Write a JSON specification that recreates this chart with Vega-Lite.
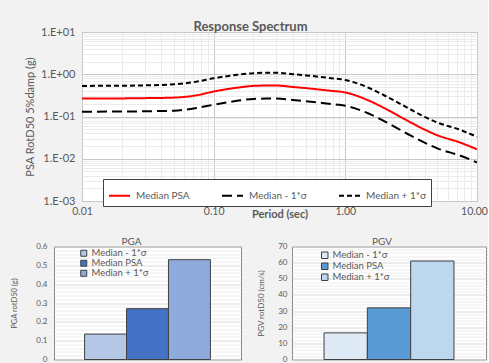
{
  "$schema": "https://vega.github.io/schema/vega-lite/v6.json",
  "background": "#f2f2f2",
  "padding": {"left": 8, "top": 20, "right": 0, "bottom": 0},
  "config": {
    "font": "Lato",
    "axis": {"labelColor": "#595959", "titleColor": "#595959", "labelFont": "Lato", "titleFont": "Lato", "ticks": false, "tickSize": 0, "domain": false, "labelOverlap": false, "labelBound": false, "labelFlush": false},
    "view": {"stroke": "#7f7f7f", "fill": "white"},
    "legend": {"labelFont": "Lato", "labelColor": "#595959"}
  },
  "spacing": 16.5,
  "resolve": {"scale": {"color": "independent", "strokeDash": "independent", "x": "independent", "y": "independent"}, "legend": {"color": "independent", "strokeDash": "independent"}},
  "vconcat": [
    {
      "bounds": "flush",
      "spacing": 0,
      "resolve": {"scale": {"x": "independent", "y": "independent", "color": "independent", "strokeDash": "independent"}, "legend": {"color": "independent", "strokeDash": "independent"}},
      "hconcat": [
        {
          "width": 28,
          "height": 169,
          "view": {"stroke": null, "fill": null},
          "data": {"values": []},
          "mark": "point",
          "encoding": {}
        },
        {
          "width": 395,
          "height": 169,
          "title": {"text": "Response Spectrum", "fontSize": 13, "fontWeight": "bold", "color": "#595959", "font": "Lato", "offset": -8, "dx": -29},
          "data": {"values": [
            {"period": 0.01, "series": "Median PSA", "value": 0.265}, {"period": 0.01, "series": "Median - 1*σ", "value": 0.13}, {"period": 0.01, "series": "Median + 1*σ", "value": 0.53},
            {"period": 0.02, "series": "Median PSA", "value": 0.268}, {"period": 0.02, "series": "Median - 1*σ", "value": 0.131}, {"period": 0.02, "series": "Median + 1*σ", "value": 0.535},
            {"period": 0.03, "series": "Median PSA", "value": 0.272}, {"period": 0.03, "series": "Median - 1*σ", "value": 0.133}, {"period": 0.03, "series": "Median + 1*σ", "value": 0.545},
            {"period": 0.05, "series": "Median PSA", "value": 0.28}, {"period": 0.05, "series": "Median - 1*σ", "value": 0.137}, {"period": 0.05, "series": "Median + 1*σ", "value": 0.58},
            {"period": 0.075, "series": "Median PSA", "value": 0.32}, {"period": 0.075, "series": "Median - 1*σ", "value": 0.16}, {"period": 0.075, "series": "Median + 1*σ", "value": 0.67},
            {"period": 0.1, "series": "Median PSA", "value": 0.39}, {"period": 0.1, "series": "Median - 1*σ", "value": 0.19}, {"period": 0.1, "series": "Median + 1*σ", "value": 0.8},
            {"period": 0.15, "series": "Median PSA", "value": 0.48}, {"period": 0.15, "series": "Median - 1*σ", "value": 0.235}, {"period": 0.15, "series": "Median + 1*σ", "value": 0.97},
            {"period": 0.2, "series": "Median PSA", "value": 0.53}, {"period": 0.2, "series": "Median - 1*σ", "value": 0.26}, {"period": 0.2, "series": "Median + 1*σ", "value": 1.06},
            {"period": 0.25, "series": "Median PSA", "value": 0.54}, {"period": 0.25, "series": "Median - 1*σ", "value": 0.265}, {"period": 0.25, "series": "Median + 1*σ", "value": 1.08},
            {"period": 0.3, "series": "Median PSA", "value": 0.54}, {"period": 0.3, "series": "Median - 1*σ", "value": 0.265}, {"period": 0.3, "series": "Median + 1*σ", "value": 1.08},
            {"period": 0.4, "series": "Median PSA", "value": 0.5}, {"period": 0.4, "series": "Median - 1*σ", "value": 0.245}, {"period": 0.4, "series": "Median + 1*σ", "value": 1.0},
            {"period": 0.5, "series": "Median PSA", "value": 0.47}, {"period": 0.5, "series": "Median - 1*σ", "value": 0.23}, {"period": 0.5, "series": "Median + 1*σ", "value": 0.94},
            {"period": 0.75, "series": "Median PSA", "value": 0.41}, {"period": 0.75, "series": "Median - 1*σ", "value": 0.2}, {"period": 0.75, "series": "Median + 1*σ", "value": 0.82},
            {"period": 1, "series": "Median PSA", "value": 0.37}, {"period": 1, "series": "Median - 1*σ", "value": 0.18}, {"period": 1, "series": "Median + 1*σ", "value": 0.73},
            {"period": 1.5, "series": "Median PSA", "value": 0.24}, {"period": 1.5, "series": "Median - 1*σ", "value": 0.118}, {"period": 1.5, "series": "Median + 1*σ", "value": 0.48},
            {"period": 2, "series": "Median PSA", "value": 0.155}, {"period": 2, "series": "Median - 1*σ", "value": 0.076}, {"period": 2, "series": "Median + 1*σ", "value": 0.31},
            {"period": 3, "series": "Median PSA", "value": 0.078}, {"period": 3, "series": "Median - 1*σ", "value": 0.038}, {"period": 3, "series": "Median + 1*σ", "value": 0.158},
            {"period": 4, "series": "Median PSA", "value": 0.049}, {"period": 4, "series": "Median - 1*σ", "value": 0.024}, {"period": 4, "series": "Median + 1*σ", "value": 0.098},
            {"period": 5, "series": "Median PSA", "value": 0.036}, {"period": 5, "series": "Median - 1*σ", "value": 0.0176}, {"period": 5, "series": "Median + 1*σ", "value": 0.072},
            {"period": 7.5, "series": "Median PSA", "value": 0.024}, {"period": 7.5, "series": "Median - 1*σ", "value": 0.0118}, {"period": 7.5, "series": "Median + 1*σ", "value": 0.048},
            {"period": 10, "series": "Median PSA", "value": 0.0167}, {"period": 10, "series": "Median - 1*σ", "value": 0.0082}, {"period": 10, "series": "Median + 1*σ", "value": 0.033}
          ]},
          "mark": {"type": "line", "strokeWidth": 2, "interpolate": "monotone", "clip": true},
          "encoding": {
            "x": {
              "field": "period", "type": "quantitative",
              "scale": {"type": "log", "domain": [0.01, 10], "nice": false},
              "axis": {
                "title": "Period (sec)", "titleFontSize": 11, "titleFontWeight": "bold", "titleY": 13, "titleBaseline": "middle",
                "values": [0.01,0.02,0.03,0.04,0.05,0.06,0.07,0.08,0.09,0.1,0.2,0.3,0.4,0.5,0.6,0.7,0.8,0.9,1,2,3,4,5,6,7,8,9,10],
                "labelExpr": "indexof([0.01,0.1,1,10], datum.value) >= 0 ? format(datum.value, '.2f') : ''",
                "labelFontSize": 10.5, "labelPadding": 5, "labelFlush": false,
                "labelOffset": {"condition": {"test": "datum.value == 10", "value": -3}, "value": 0},
                "gridColor": {"condition": {"test": "indexof([0.01,0.1,1,10], datum.value) >= 0", "value": "#c8c8c8"}, "value": "#ebebeb"}
              }
            },
            "y": {
              "field": "value", "type": "quantitative",
              "scale": {"type": "log", "domain": [0.001, 10], "nice": false},
              "axis": {
                "title": "PSA RotD50 5%damp (g)", "titleFontSize": 11, "titleFontWeight": "normal", "titleX": -46.5,
                "minExtent": 73,
                "values": [0.001,0.002,0.003,0.004,0.005,0.006,0.007,0.008,0.009,0.01,0.02,0.03,0.04,0.05,0.06,0.07,0.08,0.09,0.1,0.2,0.3,0.4,0.5,0.6,0.7,0.8,0.9,1,2,3,4,5,6,7,8,9,10],
                "labelExpr": "datum.value == 10 ? '1.E+01' : datum.value == 1 ? '1.E+00' : datum.value == 0.1 ? '1.E-01' : datum.value == 0.01 ? '1.E-02' : datum.value == 0.001 ? '1.E-03' : ''",
                "labelFontSize": 11, "labelPadding": 7,
                "gridColor": {"condition": {"test": "indexof([0.001,0.01,0.1,1,10], datum.value) >= 0", "value": "#c8c8c8"}, "value": "#ebebeb"}
              }
            },
            "color": {
              "field": "series", "type": "nominal",
              "scale": {"domain": ["Median PSA", "Median - 1*σ", "Median + 1*σ"], "range": ["#ff0000", "#000000", "#000000"]},
              "legend": {"title": null, "orient": "none", "legendX": 21, "legendY": 147, "direction": "horizontal", "symbolType": "stroke", "symbolSize": 441, "symbolStrokeWidth": 2, "labelFontSize": 10, "labelOffset": 5, "columnPadding": 28, "padding": 5, "fillColor": "white", "strokeColor": "#404040"}
            },
            "strokeDash": {
              "field": "series", "type": "nominal",
              "scale": {"domain": ["Median PSA", "Median - 1*σ", "Median + 1*σ"], "range": [[1, 0], [10, 5], [5, 3]]},
              "legend": {"title": null, "orient": "none", "legendX": 21, "legendY": 147, "direction": "horizontal", "symbolType": "stroke", "symbolSize": 441, "symbolStrokeWidth": 2, "labelFontSize": 10, "labelOffset": 5, "columnPadding": 28, "padding": 5, "fillColor": "white", "strokeColor": "#404040"}
            }
          }
        }
      ]
    },
    {
      "spacing": 14,
      "resolve": {"scale": {"color": "independent", "x": "independent", "y": "independent"}, "legend": {"color": "independent"}},
      "hconcat": [
        {
          "width": 187,
          "height": 113,
          "title": {"text": "PGA", "fontSize": 10, "fontWeight": "normal", "color": "#595959", "offset": -4.5, "dx": -16},
          "data": {"values": [
            {"series": "Median - 1*σ", "value": 0.135},
            {"series": "Median PSA", "value": 0.27},
            {"series": "Median + 1*σ", "value": 0.53}
          ]},
          "mark": {"type": "bar", "stroke": "#404040", "strokeWidth": 1},
          "encoding": {
            "x": {"field": "series", "type": "nominal", "sort": ["Median - 1*σ", "Median PSA", "Median + 1*σ"], "scale": {"paddingInner": 0, "paddingOuter": 0.73}, "axis": null},
            "y": {
              "field": "value", "type": "quantitative",
              "scale": {"domain": [0, 0.6], "nice": false},
              "axis": {
                "title": "PGA rotD50 (g)", "titleFontSize": 7.5, "titleFontWeight": "normal", "titleX": -36, "minExtent": 45,
                "values": [0,0.02,0.04,0.06,0.08,0.1,0.12,0.14,0.16,0.18,0.2,0.22,0.24,0.26,0.28,0.3,0.32,0.34,0.36,0.38,0.4,0.42,0.44,0.46,0.48,0.5,0.52,0.54,0.56,0.58,0.6],
                "labelExpr": "abs(datum.value*10 - round(datum.value*10)) < 0.0001 ? (datum.value == 0 ? '0' : format(datum.value, '.1f')) : ''",
                "labelFontSize": 8, "labelPadding": 7,
                "gridColor": {"condition": {"test": "abs(datum.value*10 - round(datum.value*10)) < 0.0001", "value": "#d9d9d9"}, "value": "#ececec"}
              }
            },
            "color": {
              "field": "series", "type": "nominal",
              "scale": {"domain": ["Median - 1*σ", "Median PSA", "Median + 1*σ"], "range": ["#b4c7e7", "#4472c4", "#8faadc"]},
              "legend": {"title": null, "orient": "none", "legendX": 25, "legendY": 2, "symbolType": "square", "symbolSize": 36, "symbolStrokeColor": "#404040", "symbolStrokeWidth": 1, "labelFontSize": 9.5, "labelOffset": 3, "rowPadding": -1.5, "padding": 0}
            }
          }
        },
        {
          "width": 194,
          "height": 113,
          "title": {"text": "PGV", "fontSize": 10, "fontWeight": "normal", "color": "#595959", "offset": -4.5, "dx": -7},
          "data": {"values": [
            {"series": "Median - 1*σ", "value": 16.5},
            {"series": "Median PSA", "value": 32},
            {"series": "Median + 1*σ", "value": 61}
          ]},
          "mark": {"type": "bar", "stroke": "#404040", "strokeWidth": 1},
          "encoding": {
            "x": {"field": "series", "type": "nominal", "sort": ["Median - 1*σ", "Median PSA", "Median + 1*σ"], "scale": {"paddingInner": 0, "paddingOuter": 0.74}, "axis": null},
            "y": {
              "field": "value", "type": "quantitative",
              "scale": {"domain": [0, 70], "nice": false},
              "axis": {
                "title": "PGV rotD50 (cm/s)", "titleFontSize": 8, "titleFontWeight": "normal", "titleX": -27, "minExtent": 35,
                "values": [0,2,4,6,8,10,12,14,16,18,20,22,24,26,28,30,32,34,36,38,40,42,44,46,48,50,52,54,56,58,60,62,64,66,68,70],
                "labelExpr": "datum.value % 10 == 0 ? datum.label : ''",
                "labelFontSize": 8, "labelPadding": 5,
                "gridColor": {"condition": {"test": "datum.value % 10 == 0", "value": "#d9d9d9"}, "value": "#ececec"}
              }
            },
            "color": {
              "field": "series", "type": "nominal",
              "scale": {"domain": ["Median - 1*σ", "Median PSA", "Median + 1*σ"], "range": ["#deebf7", "#5b9bd5", "#bdd7ee"]},
              "legend": {"title": null, "orient": "none", "legendX": 28, "legendY": 4, "symbolType": "square", "symbolSize": 42, "symbolStrokeColor": "#404040", "symbolStrokeWidth": 1, "labelFontSize": 9.5, "labelOffset": 3, "rowPadding": 0, "padding": 0}
            }
          }
        }
      ]
    }
  ]
}
